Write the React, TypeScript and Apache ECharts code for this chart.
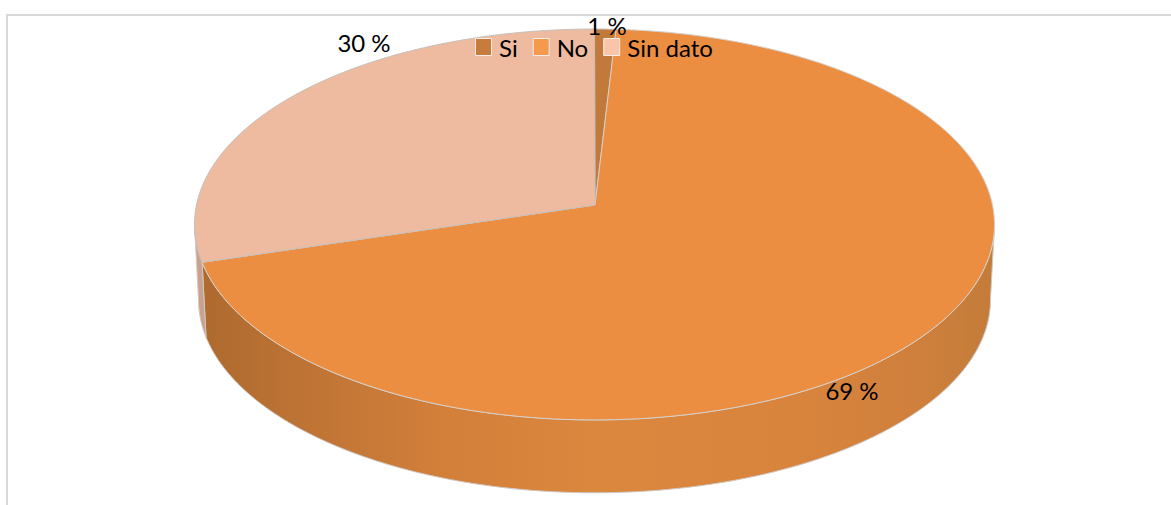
import React, { useEffect, useRef } from "react";
import * as echarts from "echarts";

const categories = ["Si", "No", "Sin dato"];
const shareValues = [0.95, 69.4, 29.65];
const valueLabels = ["1 %", "69 %", "30 %"];
const topColors = ["#C27A3A", "#EB8E41", "#EEBBA0"];
const legendColors = ["#C77C3C", "#F59A4C", "#FAC4A8"];
const wallStops = [
  { offset: 0, color: "#AE6A2F" },
  { offset: 0.12, color: "#BD7334" },
  { offset: 0.3, color: "#D27F3A" },
  { offset: 0.5, color: "#DC873E" },
  { offset: 0.76, color: "#D8843D" },
  { offset: 0.9, color: "#D0803C" },
  { offset: 1, color: "#C47C3A" },
];
const sliverWall = "#CBA08C";

const K = -0.0997;
const CX = 594.5;
const top = { y0: 205, a: 193.5, b: 398 };
const low = { y0: 280.6, a: 191, b: 394 };
const VIS_START = 95.7;
const VIS_END = 264.3;
const LABEL_POS = [
  [607, 25.5],
  [852, 390.5],
  [364, 42.5],
];

function rim(p: typeof top, deg: number): number[] {
  const t = (deg * Math.PI) / 180;
  const x = Math.sin(t);
  const y = -Math.cos(t);
  const w = 1 + K * y;
  return [CX + (p.b * x) / w, p.y0 + (p.a * y) / w];
}

function arc(p: typeof top, from: number, to: number): number[][] {
  const pts: number[][] = [];
  const n = Math.max(2, Math.ceil(Math.abs(to - from)));
  for (let i = 0; i <= n; i++) pts.push(rim(p, from + ((to - from) * i) / n));
  return pts;
}

function sliceBounds(index: number): [number, number] {
  const total = shareValues.reduce((s, v) => s + v, 0);
  const before = shareValues.slice(0, index).reduce((s, v) => s + v, 0);
  return [(before / total) * 360, ((before + shareValues[index]) / total) * 360];
}

function makeRender(index: number) {
  return () => {
    const [a0, a1] = sliceBounds(index);
    const children: any[] = [];
    const w0 = Math.max(a0, VIS_START);
    const w1 = Math.min(a1, VIS_END);
    if (w1 > w0) {
      children.push({
        type: "polygon",
        z2: 1,
        shape: { points: [...arc(top, w0, w1), ...arc(low, w1, w0)] },
        style: {
          fill:
            index === 1
              ? { type: "linear", x: 204, y: 0, x2: 990, y2: 0, global: true, colorStops: wallStops }
              : sliverWall,
          stroke: "#CFC8C2",
          lineWidth: 1,
        },
      });
    }
    children.push({
      type: "polygon",
      z2: 2,
      shape: { points: [[CX + 0.5, top.y0], ...arc(top, a0, a1)] },
      style: { fill: topColors[index], stroke: index === 1 ? "#D6D1CC" : "#C4C0BC", lineWidth: 1 },
    });
    children.push({
      type: "text",
      z2: 10,
      x: LABEL_POS[index][0],
      y: LABEL_POS[index][1],
      style: {
        text: valueLabels[index],
        fill: "#000",
        font: "24px Lato",
        align: "center",
        verticalAlign: "middle",
      },
    });
    return { type: "group", children };
  };
}

export default function App() {
  const ref = useRef<HTMLDivElement>(null);
  useEffect(() => {
    document.body.style.margin = "0";
    const chart = echarts.init(ref.current!, undefined, { renderer: "svg" });
    chart.setOption({
      animation: false,
      backgroundColor: "#fff",
      graphic: [
        { type: "line", shape: { x1: 6, y1: 15, x2: 1171, y2: 15 }, style: { stroke: "#D9D9D9", lineWidth: 2 } },
        { type: "line", shape: { x1: 7, y1: 15, x2: 7, y2: 505 }, style: { stroke: "#D9D9D9", lineWidth: 2 } },
      ],
      legend: {
        z: 5,
        left: 475,
        top: 35,
        padding: 0,
        itemWidth: 16,
        itemHeight: 17,
        itemGap: 15,
        icon: "rect",
        selectedMode: false,
        textStyle: { fontFamily: "Lato", fontSize: 24, color: "#000", padding: [0, 0, 3, 2.5] },
        data: categories.map((name, i) => ({
          name,
          itemStyle: { color: legendColors[i], borderColor: "#F2EDE8", borderWidth: 1 },
        })),
      },
      series: categories.map((name, i) => ({
        type: "custom",
        name,
        coordinateSystem: "none",
        silent: true,
        itemStyle: { color: legendColors[i] },
        data: [shareValues[i]],
        renderItem: makeRender(i),
      })),
    });
    return () => chart.dispose();
  }, []);
  return <div ref={ref} style={{ width: 1171, height: 505 }} />;
}
